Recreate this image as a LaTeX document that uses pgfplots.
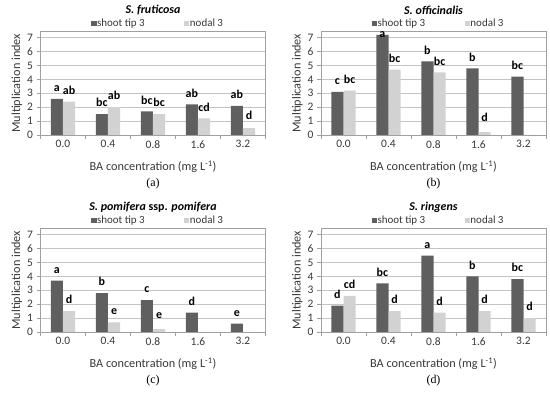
\documentclass[border=0pt]{standalone}
\usepackage{pgfplots}
\usepackage{pgfplotstable}
\pgfplotsset{compat=1.18}
\usepackage{fontspec}
\setmainfont{Carlito}
\newfontfamily\capfont{Liberation Serif}

\definecolor{darkbar}{HTML}{5F5F5F}
\definecolor{lightbar}{HTML}{D2D2D2}
\definecolor{gridc}{HTML}{C4C4C4}
\definecolor{axc}{HTML}{A0A0A0}
\definecolor{txt}{HTML}{383838}

% x: category, s: shoot tip 3, n: nodal 3, ls/ln: letters, os/on: label offsets (bp)
\pgfplotstableread{
x s n ls ln os on
0 2.6 2.4 a ab 7 7
1 1.5 2.0 bc ab 7 7
2 1.7 1.5 bc bc 7 7
3 2.2 1.2 ab cd 7 7
4 2.1 0.5 ab d 7 8
}\ta
\pgfplotstableread{
x s n ls ln os on
0 3.1 3.2 c bc 7 7
1 7.2 4.7 a bc -2.5 7
2 5.3 4.5 b bc 7 7
3 4.8 0.2 b d 7 10
4 4.2 0 bc {} 7 7
}\tb
\pgfplotstableread{
x s n ls ln os on
0 3.7 1.5 a d 7 7
1 2.8 0.7 b e 7 7
2 2.3 0.2 c e 7 10
3 1.4 0 d {} 7 7
4 0.6 0 e {} 7 7
}\tc
\pgfplotstableread{
x s n ls ln os on
0 1.9 2.6 d cd 7 7
1 3.5 1.5 bc d 7 7
2 5.5 1.4 a d 7 7
3 4.0 1.5 b d 7 7
4 3.8 1.0 bc d 7 7
}\td

\pgfplotsset{panel/.style={
  scale only axis, width=225bp, height=103.5bp,
  anchor=south west, clip=false,
  xmin=-0.5, xmax=4.5, ymin=0, ymax=7.45,
  ybar=0pt, bar width=12.2bp,
  xtick={-0.5,0.5,...,4.5}, xticklabels={},
  extra x ticks={0,1,2,3,4},
  extra x tick labels={0.0,0.4,0.8,1.6,3.2},
  extra x tick style={major tick length=0pt, xticklabel style={yshift=-2bp}},
  ytick={0,...,7},
  tick align=outside, tick pos=left,
  major tick length=4bp,
  ymajorgrids, grid style={gridc, line width=0.6bp},
  axis line style={axc, line width=0.6bp},
  every tick/.style={axc, line width=0.6bp},
  tick label style={font=\fontsize{11.5}{13}\selectfont, text=txt},
  /pgf/number format/assume math mode=true,
  label style={font=\fontsize{12.3}{14}\selectfont, text=txt},
  xlabel={BA concentration (mg L\textsuperscript{-1})},
  ylabel={Multiplication index},
  xlabel style={at={(axis description cs:0.5,-0.31)}, anchor=center},
  ylabel style={at={(axis description cs:-0.105,0.5)}, anchor=center},
  title style={at={(axis description cs:0.5,1.15)}, anchor=center, font=\fontsize{12}{14}\selectfont\bfseries, text=black},
  legend style={at={(axis description cs:0.52,1.075)}, anchor=center, draw=none, fill=none, legend columns=2,
    font=\fontsize{11}{13}\selectfont, text=txt, /tikz/every even column/.append style={column sep=39bp},
    nodes={inner sep=0.5bp}},
  legend image code/.code={\fill[#1] (0bp,-2.6bp) rectangle (5.2bp,2.6bp);},
  nodes near coords,
  point meta=explicit symbolic,
  every node near coord/.append style={font=\fontsize{12}{14}\selectfont\bfseries, text=black, inner sep=0pt, anchor=south, yshift=\off bp},
}}

\begin{document}
\begin{tikzpicture}
\useasboundingbox (0,0) rectangle (550bp,394bp);
% (a)
\begin{axis}[panel, at={(40.5bp,259bp)}, title={\textit{S. fruticosa}}]
\addplot[fill=darkbar, draw=none, visualization depends on={\thisrow{os}\as\off}] table[x=x, y=s, meta=ls] \ta;
\addplot[fill=lightbar, draw=none, visualization depends on={\thisrow{on}\as\off}] table[x=x, y=n, meta=ln] \ta;
\legend{shoot tip 3, nodal 3}
\node[font=\capfont\fontsize{12}{14}\selectfont] at (axis description cs:0.5,-0.469) {(a)};
\end{axis}
% (b)
\begin{axis}[panel, at={(321bp,259bp)}, title={\textit{S. officinalis}}]
\addplot[fill=darkbar, draw=none, visualization depends on={\thisrow{os}\as\off}] table[x=x, y=s, meta=ls] \tb;
\addplot[fill=lightbar, draw=none, visualization depends on={\thisrow{on}\as\off}] table[x=x, y=n, meta=ln] \tb;
\legend{shoot tip 3, nodal 3}
\node[font=\capfont\fontsize{12}{14}\selectfont] at (axis description cs:0.5,-0.469) {(b)};
\end{axis}
% (c)
\begin{axis}[panel, at={(40.5bp,62bp)}, title={\textit{S. pomifera} ssp. \textit{pomifera}}]
\addplot[fill=darkbar, draw=none, visualization depends on={\thisrow{os}\as\off}] table[x=x, y=s, meta=ls] \tc;
\addplot[fill=lightbar, draw=none, visualization depends on={\thisrow{on}\as\off}] table[x=x, y=n, meta=ln] \tc;
\legend{shoot tip 3, nodal 3}
\node[font=\capfont\fontsize{12}{14}\selectfont] at (axis description cs:0.5,-0.469) {(c)};
\end{axis}
% (d)
\begin{axis}[panel, at={(321bp,62bp)}, title={\textit{S. ringens}}]
\addplot[fill=darkbar, draw=none, visualization depends on={\thisrow{os}\as\off}] table[x=x, y=s, meta=ls] \td;
\addplot[fill=lightbar, draw=none, visualization depends on={\thisrow{on}\as\off}] table[x=x, y=n, meta=ln] \td;
\legend{shoot tip 3, nodal 3}
\node[font=\capfont\fontsize{12}{14}\selectfont] at (axis description cs:0.5,-0.469) {(d)};
\end{axis}
\end{tikzpicture}
\end{document}
